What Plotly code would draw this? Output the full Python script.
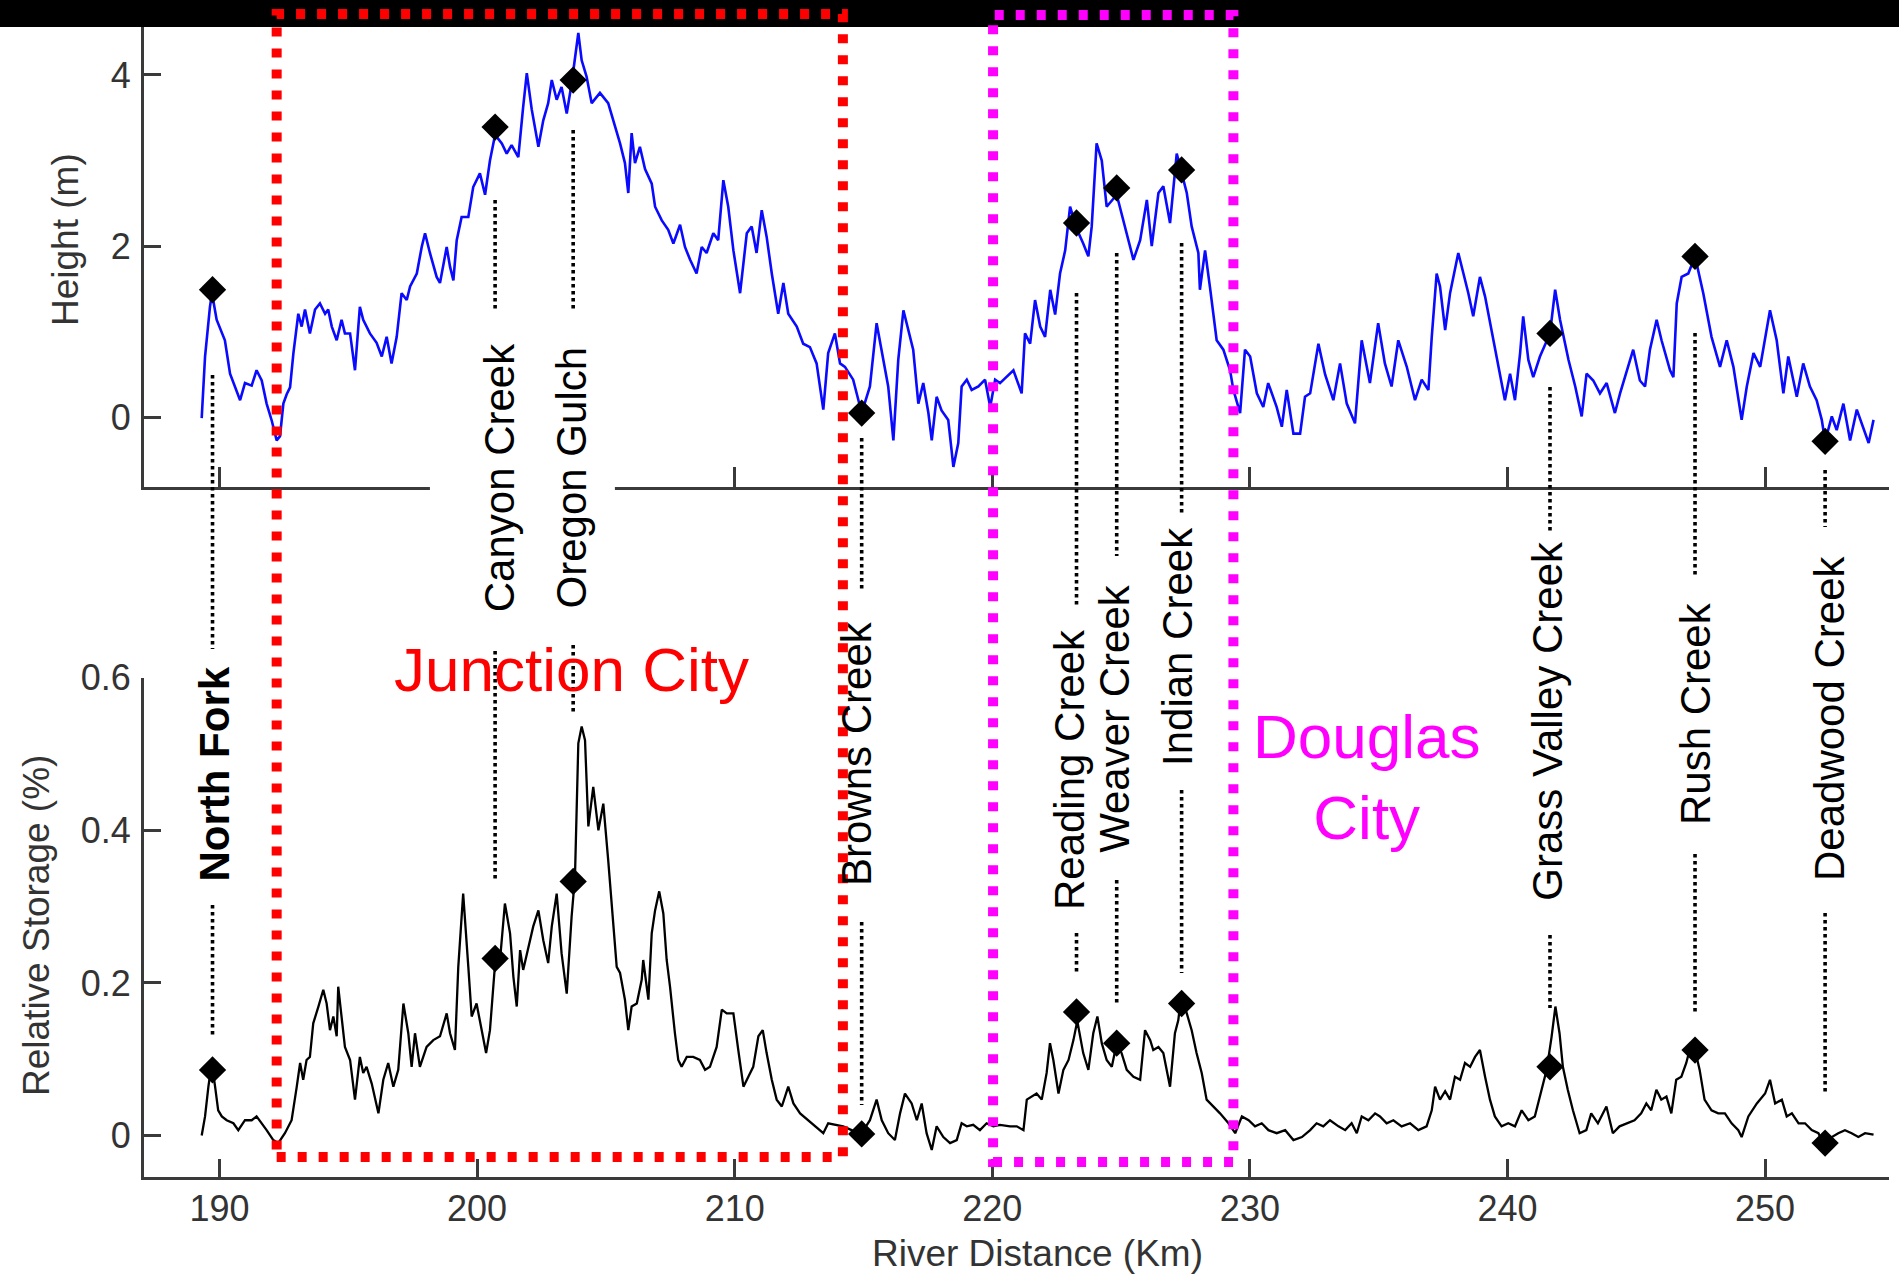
import plotly.graph_objects as go

# ---------------------------------------------------------------------------
# Data
# ---------------------------------------------------------------------------
# Water surface height along the river (upper panel)
height_km = [
    189.31, 189.44, 189.63, 189.71, 189.89, 190.09, 190.21, 190.41, 190.80, 190.99,
    191.25, 191.44, 191.64, 191.83, 192.03, 192.22, 192.35, 192.48, 192.61, 192.74,
    192.87, 193.06, 193.19, 193.32, 193.51, 193.71, 193.90, 194.10, 194.22, 194.36,
    194.55, 194.74, 194.87, 195.07, 195.26, 195.45, 195.58, 195.84, 196.10, 196.30,
    196.49, 196.68, 196.88, 197.07, 197.27, 197.40, 197.66, 197.85, 197.98, 198.17,
    198.43, 198.56, 198.82, 198.95, 199.08, 199.21, 199.40, 199.66, 199.85, 200.11,
    200.31, 200.50, 200.70, 200.96, 201.15, 201.34, 201.60, 201.79, 201.93, 202.12,
    202.38, 202.57, 202.76, 202.90, 203.09, 203.28, 203.48, 203.67, 203.93, 204.06,
    204.25, 204.45, 204.77, 205.09, 205.35, 205.55, 205.74, 205.87, 206.00, 206.13,
    206.32, 206.52, 206.78, 206.91, 207.17, 207.42, 207.62, 207.88, 208.07, 208.27,
    208.52, 208.72, 208.91, 209.17, 209.36, 209.56, 209.75, 209.95, 210.21, 210.47,
    210.66, 210.85, 211.05, 211.24, 211.44, 211.69, 211.89, 212.08, 212.41, 212.66,
    212.92, 213.18, 213.44, 213.63, 213.89, 214.09, 214.28, 214.60, 214.93, 215.25,
    215.51, 215.71, 215.96, 216.16, 216.35, 216.55, 216.74, 216.93, 217.13, 217.32,
    217.52, 217.65, 217.84, 218.03, 218.29, 218.49, 218.68, 218.81, 219.01, 219.20,
    219.46, 219.72, 219.92, 220.11, 220.30, 220.56, 220.82, 221.14, 221.27, 221.47,
    221.66, 221.86, 222.05, 222.25, 222.44, 222.63, 222.83, 223.02, 223.28, 223.53,
    223.73, 223.86, 224.05, 224.25, 224.44, 224.83, 225.09, 225.48, 225.74, 226.00,
    226.19, 226.45, 226.64, 226.90, 227.16, 227.35, 227.55, 227.74, 228.00, 228.06,
    228.26, 228.45, 228.71, 228.97, 229.23, 229.36, 229.62, 229.81, 230.01, 230.27,
    230.52, 230.71, 231.04, 231.24, 231.43, 231.69, 231.95, 232.14, 232.34, 232.66,
    232.92, 233.24, 233.50, 233.76, 234.08, 234.34, 234.66, 234.98, 235.24, 235.50,
    235.76, 236.09, 236.41, 236.67, 236.93, 237.06, 237.25, 237.38, 237.58, 237.77,
    238.09, 238.29, 238.48, 238.67, 238.93, 239.13, 239.45, 239.71, 239.90, 240.10,
    240.29, 240.49, 240.61, 240.81, 241.00, 241.26, 241.65, 241.85, 242.04, 242.37,
    242.63, 242.88, 243.07, 243.33, 243.59, 243.85, 244.17, 244.37, 244.63, 244.88,
    245.14, 245.34, 245.53, 245.79, 245.98, 246.31, 246.44, 246.57, 246.76, 247.02,
    247.28, 247.60, 247.92, 248.25, 248.51, 248.77, 249.09, 249.29, 249.55, 249.81,
    250.19, 250.45, 250.71, 250.90, 251.23, 251.48, 251.74, 252.00, 252.20, 252.33,
    252.59, 252.78, 253.04, 253.30, 253.56, 253.77, 254.02, 254.21,
]
height_m = [
    -0.01, 0.71, 1.29, 1.45, 1.14, 1.00, 0.90, 0.51, 0.20, 0.40,
    0.37, 0.55, 0.43, 0.16, -0.04, -0.27, -0.22, 0.16, 0.27, 0.35,
    0.75, 1.21, 1.06, 1.26, 0.98, 1.26, 1.33, 1.21, 1.26, 1.06,
    0.90, 1.14, 0.98, 0.98, 0.55, 1.29, 1.14, 0.98, 0.87, 0.71,
    0.94, 0.63, 0.94, 1.45, 1.37, 1.53, 1.68, 1.99, 2.15, 1.92,
    1.64, 1.57, 1.99, 1.76, 1.60, 2.07, 2.34, 2.34, 2.69, 2.85,
    2.60, 3.00, 3.30, 3.20, 3.08, 3.18, 3.04, 3.63, 4.02, 3.60,
    3.16, 3.47, 3.67, 3.94, 3.71, 3.86, 3.55, 3.90, 4.49, 4.17,
    3.98, 3.67, 3.79, 3.67, 3.40, 3.20, 2.97, 2.62, 3.32, 2.97,
    3.16, 2.90, 2.73, 2.46, 2.30, 2.19, 2.03, 2.25, 1.99, 1.84,
    1.68, 1.99, 1.92, 2.15, 2.07, 2.77, 2.46, 1.95, 1.45, 2.15,
    2.23, 1.92, 2.42, 2.11, 1.68, 1.21, 1.57, 1.21, 1.06, 0.86,
    0.82, 0.63, 0.09, 0.75, 0.98, 0.63, 0.59, 0.44, 0.05, 0.36,
    1.10, 0.75, 0.36, -0.27, 0.67, 1.25, 1.02, 0.79, 0.16, 0.40,
    0.05, -0.27, 0.24, 0.08, -0.03, -0.58, -0.30, 0.36, 0.44, 0.32,
    0.36, 0.44, 0.12, 0.44, 0.40, 0.48, 0.55, 0.28, 0.98, 0.86,
    1.37, 1.06, 0.94, 1.49, 1.20, 1.68, 1.95, 2.46, 2.20, 2.03,
    1.88, 2.23, 3.20, 3.00, 2.46, 2.60, 2.30, 1.84, 2.07, 2.54,
    2.00, 2.62, 2.70, 2.27, 3.08, 2.85, 2.62, 2.23, 1.92, 1.49,
    1.95, 1.52, 0.90, 0.79, 0.55, 0.32, 0.05, 0.79, 0.71, 0.28,
    0.12, 0.40, 0.12, -0.11, 0.32, -0.19, -0.19, 0.24, 0.28, 0.86,
    0.50, 0.20, 0.63, 0.16, -0.07, 0.90, 0.40, 1.10, 0.63, 0.36,
    0.90, 0.59, 0.20, 0.44, 0.32, 0.94, 1.68, 1.53, 1.02, 1.45,
    1.92, 1.68, 1.45, 1.18, 1.64, 1.41, 0.90, 0.51, 0.20, 0.51,
    0.20, 0.75, 1.18, 0.67, 0.47, 0.71, 0.98, 1.49, 1.14, 0.67,
    0.36, 0.01, 0.51, 0.43, 0.28, 0.40, 0.05, 0.28, 0.55, 0.79,
    0.43, 0.36, 0.79, 1.14, 0.90, 0.55, 0.47, 1.33, 1.64, 1.68,
    1.88, 1.45, 0.94, 0.59, 0.90, 0.59, -0.03, 0.36, 0.75, 0.59,
    1.25, 0.90, 0.28, 0.71, 0.24, 0.63, 0.36, 0.20, -0.03, -0.28,
    0.01, -0.15, 0.16, -0.27, 0.09, -0.10, -0.30, -0.03,
]

# Relative storage along the river (lower panel)
storage_km = [
    189.31, 189.44, 189.57, 189.70, 189.83, 189.95, 190.09, 190.28, 190.54, 190.73,
    190.99, 191.25, 191.44, 191.64, 191.83, 192.09, 192.28, 192.54, 192.80, 193.00,
    193.13, 193.25, 193.38, 193.51, 193.64, 193.84, 194.03, 194.16, 194.29, 194.42,
    194.55, 194.61, 194.74, 194.87, 195.07, 195.26, 195.45, 195.58, 195.71, 195.91,
    196.17, 196.36, 196.55, 196.75, 196.94, 197.14, 197.33, 197.46, 197.59, 197.78,
    198.04, 198.30, 198.56, 198.82, 198.95, 199.14, 199.27, 199.46, 199.66, 199.79,
    199.98, 200.18, 200.35, 200.50, 200.70, 200.89, 201.08, 201.28, 201.41, 201.54,
    201.67, 201.79, 201.99, 202.18, 202.38, 202.57, 202.76, 202.90, 203.09, 203.28,
    203.48, 203.67, 203.80, 203.93, 204.06, 204.19, 204.32, 204.51, 204.71, 204.90,
    205.09, 205.29, 205.42, 205.55, 205.74, 205.87, 206.00, 206.20, 206.39, 206.45,
    206.65, 206.78, 206.91, 207.07, 207.23, 207.36, 207.49, 207.68, 207.81, 207.94,
    208.14, 208.39, 208.65, 208.85, 209.04, 209.30, 209.50, 209.69, 209.95, 210.14,
    210.34, 210.53, 210.72, 210.92, 211.09, 211.24, 211.44, 211.63, 211.83, 212.08,
    212.28, 212.54, 212.86, 213.12, 213.44, 213.63, 213.89, 214.21, 214.54, 214.93,
    215.25, 215.51, 215.71, 215.96, 216.22, 216.42, 216.61, 216.87, 217.07, 217.26,
    217.45, 217.65, 217.84, 218.10, 218.36, 218.62, 218.81, 219.01, 219.26, 219.52,
    219.78, 220.04, 220.30, 220.69, 220.95, 221.21, 221.34, 221.53, 221.72, 221.92,
    222.11, 222.24, 222.37, 222.57, 222.76, 222.96, 223.15, 223.30, 223.53, 223.73,
    223.92, 224.08, 224.25, 224.44, 224.64, 224.83, 225.02, 225.22, 225.48, 225.74,
    225.93, 226.13, 226.25, 226.45, 226.64, 226.90, 227.09, 227.22, 227.35, 227.55,
    227.74, 227.93, 228.13, 228.32, 228.58, 228.84, 229.17, 229.43, 229.69, 229.95,
    230.20, 230.46, 230.72, 231.04, 231.37, 231.69, 232.02, 232.34, 232.59, 232.85,
    233.11, 233.44, 233.70, 233.95, 234.15, 234.34, 234.60, 234.86, 235.05, 235.31,
    235.57, 235.89, 236.22, 236.54, 236.86, 237.06, 237.19, 237.38, 237.58, 237.77,
    237.96, 238.16, 238.35, 238.55, 238.74, 238.93, 239.13, 239.32, 239.51, 239.77,
    240.03, 240.29, 240.55, 240.81, 241.06, 241.32, 241.52, 241.71, 241.86, 242.02,
    242.15, 242.34, 242.54, 242.80, 243.06, 243.25, 243.51, 243.84, 244.09, 244.35,
    244.61, 244.93, 245.19, 245.39, 245.58, 245.78, 245.97, 246.17, 246.36, 246.55,
    246.75, 246.94, 247.10, 247.28, 247.46, 247.65, 247.92, 248.18, 248.44, 248.70,
    248.96, 249.09, 249.35, 249.68, 250.00, 250.19, 250.39, 250.65, 250.84, 251.04,
    251.30, 251.55, 251.81, 252.07, 252.33, 252.59, 252.84, 253.10, 253.36, 253.62,
    253.88, 254.21,
]
storage_pct = [
    0.000, 0.025, 0.064, 0.095, 0.064, 0.033, 0.025, 0.020, 0.016, 0.007,
    0.020, 0.020, 0.025, 0.016, 0.007, -0.006, -0.010, 0.003, 0.020, 0.064,
    0.095, 0.073, 0.099, 0.103, 0.147, 0.169, 0.191, 0.173, 0.138, 0.156,
    0.130, 0.195, 0.156, 0.116, 0.099, 0.047, 0.103, 0.082, 0.090, 0.068,
    0.029, 0.073, 0.095, 0.064, 0.086, 0.173, 0.134, 0.090, 0.134, 0.090,
    0.116, 0.125, 0.130, 0.160, 0.134, 0.112, 0.221, 0.317, 0.221, 0.156,
    0.173, 0.138, 0.108, 0.138, 0.226, 0.230, 0.304, 0.265, 0.208, 0.169,
    0.243, 0.217, 0.248, 0.274, 0.295, 0.256, 0.226, 0.274, 0.317, 0.239,
    0.186, 0.287, 0.339, 0.514, 0.536, 0.518, 0.405, 0.457, 0.400, 0.435,
    0.361, 0.274, 0.221, 0.213, 0.178, 0.138, 0.169, 0.173, 0.204, 0.230,
    0.178, 0.265, 0.295, 0.320, 0.291, 0.230, 0.195, 0.134, 0.099, 0.090,
    0.103, 0.103, 0.099, 0.086, 0.090, 0.116, 0.165, 0.160, 0.160, 0.112,
    0.064, 0.077, 0.090, 0.130, 0.138, 0.108, 0.073, 0.047, 0.038, 0.064,
    0.042, 0.029, 0.020, 0.012, 0.003, 0.016, 0.014, 0.012, 0.007, 0.003,
    0.020, 0.047, 0.020, 0.003, -0.006, 0.029, 0.055, 0.042, 0.020, 0.042,
    0.003, -0.019, 0.012, -0.002, -0.010, -0.006, 0.016, 0.012, 0.014, 0.007,
    0.016, 0.012, 0.014, 0.012, 0.012, 0.007, 0.047, 0.051, 0.055, 0.047,
    0.082, 0.121, 0.099, 0.055, 0.086, 0.099, 0.125, 0.150, 0.108, 0.086,
    0.134, 0.156, 0.121, 0.099, 0.090, 0.121, 0.108, 0.086, 0.077, 0.073,
    0.138, 0.125, 0.112, 0.116, 0.108, 0.064, 0.134, 0.151, 0.186, 0.160,
    0.138, 0.108, 0.082, 0.047, 0.038, 0.029, 0.016, 0.003, 0.025, 0.020,
    0.012, 0.016, 0.007, 0.003, 0.007, -0.006, -0.002, 0.007, 0.016, 0.012,
    0.020, 0.012, 0.007, 0.016, 0.003, 0.025, 0.020, 0.029, 0.025, 0.016,
    0.020, 0.012, 0.016, 0.007, 0.012, 0.033, 0.064, 0.047, 0.058, 0.047,
    0.077, 0.073, 0.095, 0.090, 0.103, 0.112, 0.077, 0.047, 0.025, 0.012,
    0.016, 0.012, 0.033, 0.020, 0.025, 0.060, 0.086, 0.129, 0.169, 0.134,
    0.090, 0.060, 0.033, 0.003, 0.007, 0.029, 0.016, 0.038, 0.003, 0.012,
    0.016, 0.020, 0.029, 0.042, 0.033, 0.060, 0.047, 0.051, 0.029, 0.073,
    0.077, 0.095, 0.116, 0.112, 0.086, 0.047, 0.033, 0.029, 0.029, 0.016,
    0.007, -0.002, 0.025, 0.042, 0.055, 0.073, 0.042, 0.047, 0.025, 0.029,
    0.016, 0.016, 0.007, 0.003, -0.015, -0.002, 0.003, 0.007, 0.003, -0.002,
    0.003, 0.001,
]

# Tributary confluences
creek_names = [
    "North Fork", "Canyon Creek", "Oregon Gulch", "Browns Creek", "Reading Creek",
    "Weaver Creek", "Indian Creek", "Grass Valley Creek", "Rush Creek", "Deadwood Creek",
]
creek_km = [189.73, 200.70, 203.73, 214.93, 223.27, 224.83, 227.35, 241.65, 247.28, 252.33]
creek_height = [1.49, 3.39, 3.94, 0.05, 2.27, 2.68, 2.89, 0.98, 1.88, -0.28]
creek_storage = [0.086, 0.232, 0.333, 0.002, 0.162, 0.121, 0.173, 0.090, 0.112, -0.010]

# Town reaches (km)
junction_city_km = [192.22, 214.20]
douglas_city_km = [220.03, 229.36]

x_ticks = [190, 200, 210, 220, 230, 240, 250]
height_ticks = [0, 2, 4]
storage_ticks = [0, 0.2, 0.4, 0.6]
storage_tick_text = ["0", "0.2", "0.4", "0.6"]

# ---------------------------------------------------------------------------
# Layout helpers (figure pixels -> paper fractions)
# ---------------------------------------------------------------------------
W, H = 1899, 1281
M_L, M_R, M_T, M_B = 144, 10, 0, 104
PLOT_W = W - M_L - M_R
PLOT_H = H - M_T - M_B


def py(pix):
    return (H - M_B - pix) / PLOT_H


def px(pix):
    return (pix - M_L) / PLOT_W


AXIS_COLOR = "#3a3a3a"
TICK_FONT = dict(family="Liberation Sans, Arial, sans-serif", size=36, color="#333333")
LABEL_FONT = "Liberation Sans, Arial, sans-serif"

fig = go.Figure()

fig.add_trace(go.Scatter(
    x=height_km, y=height_m, mode="lines",
    line=dict(color="#0a0aff", width=2.6),
    xaxis="x2", yaxis="y2", hoverinfo="skip",
))
fig.add_trace(go.Scatter(
    x=creek_km, y=creek_height, mode="markers",
    marker=dict(symbol="diamond", size=21, color="black"),
    xaxis="x2", yaxis="y2", text=creek_names,
))
fig.add_trace(go.Scatter(
    x=storage_km, y=storage_pct, mode="lines",
    line=dict(color="black", width=2.3),
    xaxis="x", yaxis="y", hoverinfo="skip",
))
fig.add_trace(go.Scatter(
    x=creek_km, y=creek_storage, mode="markers",
    marker=dict(symbol="diamond", size=21, color="black"),
    xaxis="x", yaxis="y", text=creek_names,
))

axis_common = dict(
    showline=True, linecolor=AXIS_COLOR, linewidth=3,
    ticks="inside", tickcolor=AXIS_COLOR, tickwidth=2.5,
    showgrid=False, zeroline=False, tickfont=TICK_FONT, automargin=False,
)

fig.update_layout(
    width=W, height=H,
    margin=dict(l=M_L, r=M_R, t=M_T, b=M_B, autoexpand=False),
    paper_bgcolor="white", plot_bgcolor="white",
    showlegend=False,
    xaxis=dict(domain=[0, 1], range=[187.07, 254.81], anchor="y",
               tickvals=x_ticks, ticklen=18, ticklabelstandoff=-2, **axis_common),
    xaxis2=dict(domain=[0, 1], range=[187.07, 254.81], anchor="y2", matches="x",
                tickvals=x_ticks, ticklen=20, showticklabels=False, **axis_common),
    yaxis=dict(domain=[0, py(677.7)], range=[-0.0544, 0.6], anchor="x",
               tickvals=storage_ticks, ticktext=storage_tick_text, ticklen=17,
               ticklabelstandoff=3, **axis_common),
    yaxis2=dict(domain=[py(487), 1], range=[-0.814, 4.875], anchor="x2",
                tickvals=height_ticks, ticklen=17, ticklabelstandoff=3, **axis_common),
)

shapes = []

# Dark band across the top edge
shapes.append(dict(type="rect", xref="paper", yref="paper",
                   x0=-0.2, x1=1.2, y0=py(27), y1=1.05,
                   fillcolor="black", line=dict(width=0), layer="above"))

# Break in the upper baseline behind the Canyon Creek / Oregon Gulch labels
shapes.append(dict(type="rect", xref="x", yref="paper",
                   x0=198.17, x1=205.35, y0=py(497), y1=py(464),
                   fillcolor="white", line=dict(width=0), layer="above"))

# Leader lines (pixel rows of each dotted segment: above and below the label)
leader_rows = {
    "North Fork": [(375, 649), (905, 1036)],
    "Canyon Creek": [(200, 310), (651, 881)],
    "Oregon Gulch": [(130, 310), (645, 712)],
    "Browns Creek": [(438, 590), (922, 1105)],
    "Reading Creek": [(293, 607), (933, 975)],
    "Weaver Creek": [(253, 556), (880, 1005)],
    "Indian Creek": [(243, 513), (790, 973)],
    "Grass Valley Creek": [(387, 532), (935, 1008)],
    "Rush Creek": [(333, 577), (854, 1013)],
    "Deadwood Creek": [(470, 527), (913, 1093)],
}
for name, km in zip(creek_names, creek_km):
    for top, bottom in leader_rows[name]:
        shapes.append(dict(type="line", xref="x", yref="paper",
                           x0=km, x1=km, y0=py(top), y1=py(bottom),
                           line=dict(color="black", width=3.6, dash="3.5px,3.5px"),
                           layer="above"))

# Town reach outlines
shapes.append(dict(type="rect", xref="x", yref="paper",
                   x0=junction_city_km[0], x1=junction_city_km[1],
                   y0=py(1157), y1=py(14),
                   line=dict(color="#ff0000", width=10, dash="9px,12px"),
                   fillcolor="rgba(0,0,0,0)", layer="above"))
shapes.append(dict(type="rect", xref="x", yref="paper",
                   x0=douglas_city_km[0], x1=douglas_city_km[1],
                   y0=py(1162), y1=py(15),
                   line=dict(color="#ff00ff", width=10, dash="9px,12px"),
                   fillcolor="rgba(0,0,0,0)", layer="above"))

fig.update_layout(shapes=shapes)

annotations = []

# Tributary names (x in km, vertical centre in pixel rows)
label_place = {
    "North Fork": (189.77, 774),
    "Canyon Creek": (200.90, 478),
    "Oregon Gulch": (203.70, 478),
    "Browns Creek": (214.71, 754),
    "Reading Creek": (222.98, 770),
    "Weaver Creek": (224.72, 718),
    "Indian Creek": (227.17, 646),
    "Grass Valley Creek": (241.52, 721),
    "Rush Creek": (247.32, 714),
    "Deadwood Creek": (252.48, 718),
}
for name in creek_names:
    lx, ly = label_place[name]
    text = f"<b>{name}</b>" if name == "North Fork" else name
    annotations.append(dict(
        x=lx, y=py(ly), xref="x", yref="paper", text=text, textangle=-90,
        showarrow=False, xanchor="center", yanchor="middle",
        font=dict(family=LABEL_FONT, size=42, color="black"),
    ))

annotations.append(dict(
    x=203.68, y=py(669.5), xref="x", yref="paper", text="Junction City",
    showarrow=False, xanchor="center", yanchor="middle",
    font=dict(family=LABEL_FONT, size=62, color="#ff0000"),
))
annotations.append(dict(
    x=234.51, y=py(777), xref="x", yref="paper", text="Douglas<br>City",
    showarrow=False, xanchor="center", yanchor="middle", align="center",
    font=dict(family=LABEL_FONT, size=62, color="#ff00ff"),
))

# Axis titles
annotations.append(dict(
    x=px(66), y=py(240), xref="paper", yref="paper", text="Height (m)",
    textangle=-90, showarrow=False, xanchor="center", yanchor="middle",
    font=dict(family=LABEL_FONT, size=37, color="#333333"),
))
annotations.append(dict(
    x=px(36), y=py(926), xref="paper", yref="paper", text="Relative Storage (%)",
    textangle=-90, showarrow=False, xanchor="center", yanchor="middle",
    font=dict(family=LABEL_FONT, size=37, color="#333333"),
))
annotations.append(dict(
    x=px(1037), y=py(1254), xref="paper", yref="paper", text="River Distance (Km)",
    showarrow=False, xanchor="center", yanchor="middle",
    font=dict(family=LABEL_FONT, size=37, color="#333333"),
))

fig.update_layout(annotations=annotations)

fig.write_html("out.html")
